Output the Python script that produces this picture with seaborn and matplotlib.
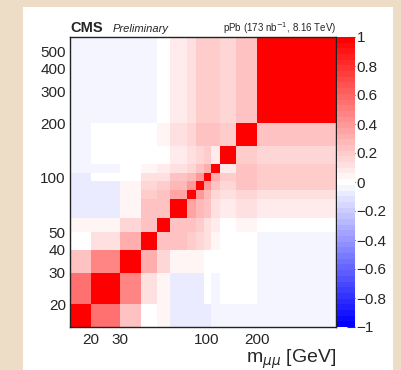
import numpy as np
import pandas as pd
import matplotlib
matplotlib.use("Agg")
import matplotlib.pyplot as plt
import seaborn as sns
from matplotlib.ticker import FixedLocator, FixedFormatter, NullFormatter
from matplotlib.patches import Rectangle

# ---- data ----
mass_edges = [15, 20, 30, 40, 50, 60, 76, 86, 96, 106, 120, 150, 200, 600]

# upper triangle of the correlation matrix, row i starts at column i
corr_upper = [
    [1.00, 0.55, 0.22, 0.00, 0.05, -0.08, -0.08, -0.08, -0.08, -0.04, -0.04, -0.04, -0.04],
    [1.00, 0.47, 0.10, 0.05, -0.08, -0.08, -0.08, 0.00, -0.03, 0.00, 0.00, -0.04],
    [1.00, 0.30, 0.15, 0.04, 0.04, 0.04, 0.01, 0.00, 0.00, 0.00, -0.04],
    [1.00, 0.25, 0.22, 0.18, 0.15, 0.12, 0.05, 0.00, 0.00, -0.04],
    [1.00, 0.25, 0.22, 0.20, 0.13, 0.07, 0.00, 0.05, 0.00],
    [1.00, 0.35, 0.28, 0.22, 0.10, 0.08, 0.10, 0.06],
    [1.00, 0.38, 0.28, 0.15, 0.13, 0.15, 0.12],
    [1.00, 0.38, 0.25, 0.15, 0.25, 0.20],
    [1.00, 0.33, 0.18, 0.25, 0.20],
    [1.00, 0.08, 0.25, 0.20],
    [1.00, 0.20, 0.15],
    [1.00, 0.25],
    [1.00],
]

x_major_ticks = [20, 30, 100, 200]
x_minor_ticks = [40, 50, 60, 70, 80, 90, 300, 400, 500]
y_major_ticks = [20, 30, 40, 50, 100, 200, 300, 400, 500]
y_minor_ticks = [60, 70, 80, 90]
cbar_ticks = [-1, -0.8, -0.6, -0.4, -0.2, 0, 0.2, 0.4, 0.6, 0.8, 1]
cbar_tick_labels = ["\u22121", "\u22120.8", "\u22120.6", "\u22120.4", "\u22120.2",
                    "0", "0.2", "0.4", "0.6", "0.8", "1"]

# ---- build long table ----
edges = np.array(mass_edges, dtype=float)
n = len(edges) - 1
corr = np.zeros((n, n))
for i, row in enumerate(corr_upper):
    for k, v in enumerate(row):
        j = i + k
        corr[i, j] = v
        corr[j, i] = v
centers = np.sqrt(edges[:-1] * edges[1:])
xs, ys = np.meshgrid(centers, centers)
df = pd.DataFrame({"x": xs.ravel(), "y": ys.ravel(), "w": corr.ravel()})

# ---- figure ----
sns.set_style("ticks")
plt.rcParams["font.family"] = ["Liberation Sans", "DejaVu Sans"]
plt.rcParams["axes.unicode_minus"] = True

W, H = 402, 370
fig = plt.figure(figsize=(W / 100, H / 100), dpi=100)
fig.patch.set_facecolor("#eddcc6")
fig.patches.append(Rectangle((23 / W, 0), (393 - 23) / W, 363 / H,
                             transform=fig.transFigure, facecolor="white",
                             edgecolor="none", zorder=-10))

ax = fig.add_axes([70 / W, 1 - 327 / H, 266 / W, 290 / H])
cax = fig.add_axes([337.5 / W, 1 - 327 / H, 17.5 / W, 290 / H])

cmap = plt.get_cmap("bwr", 51)
sns.histplot(data=df, x="x", y="y", weights="w", bins=list(mass_edges),
             thresh=None, cmap=cmap, vmin=-1, vmax=1, cbar=True,
             cbar_ax=cax, ax=ax)

ax.set_xscale("log")
ax.set_yscale("log")
ax.set_xlim(15, 600)
ax.set_ylim(15, 600)
ax.set_xlabel("")
ax.set_ylabel("")

ax.xaxis.set_major_locator(FixedLocator(x_major_ticks))
ax.xaxis.set_major_formatter(FixedFormatter([str(v) for v in x_major_ticks]))
ax.xaxis.set_minor_locator(FixedLocator(x_minor_ticks))
ax.xaxis.set_minor_formatter(NullFormatter())
ax.yaxis.set_major_locator(FixedLocator(y_major_ticks))
ax.yaxis.set_major_formatter(FixedFormatter([str(v) for v in y_major_ticks]))
ax.yaxis.set_minor_locator(FixedLocator(y_minor_ticks))
ax.yaxis.set_minor_formatter(NullFormatter())

ax.tick_params(which="both", direction="in", top=True, right=True,
               color="#222222", width=0.8)
ax.tick_params(which="major", length=6, labelsize=11, pad=3)
ax.tick_params(which="minor", length=3.5)
ax.tick_params(axis="x", which="major", pad=4)
for s in ax.spines.values():
    s.set_visible(True)
    s.set_linewidth(1.0)
    s.set_color("#222222")

# colorbar
cax.set_yticks(cbar_ticks)
cax.set_yticklabels(cbar_tick_labels)
cax.yaxis.set_ticks_position("right")
cax.tick_params(which="major", direction="in", length=6, width=0.8,
                labelsize=11, pad=1, color="#333333")
cax.minorticks_off()
for s in cax.spines.values():
    s.set_visible(False)
for coll in ax.collections:
    cbar_obj = getattr(coll, "colorbar", None)
    if cbar_obj is not None:
        cbar_obj.outline.set_visible(False)

# texts
fig.text(70 / W, 1 - 32 / H, "CMS", fontsize=10.5, fontweight="bold",
         ha="left", va="baseline")
fig.text(113 / W, 1 - 32 / H, "Preliminary", fontsize=8, fontstyle="italic",
         ha="left", va="baseline")
fig.text(336 / W, 1 - 32 / H, r"pPb (173 nb$^{-1}$, 8.16 TeV)", fontsize=7,
         ha="right", va="baseline")
fig.text(336 / W, 1 - 363 / H, r"m$_{\mu\mu}$ [GeV]", fontsize=14,
         ha="right", va="baseline")

fig.savefig("out.png", dpi=100, facecolor=fig.get_facecolor())
